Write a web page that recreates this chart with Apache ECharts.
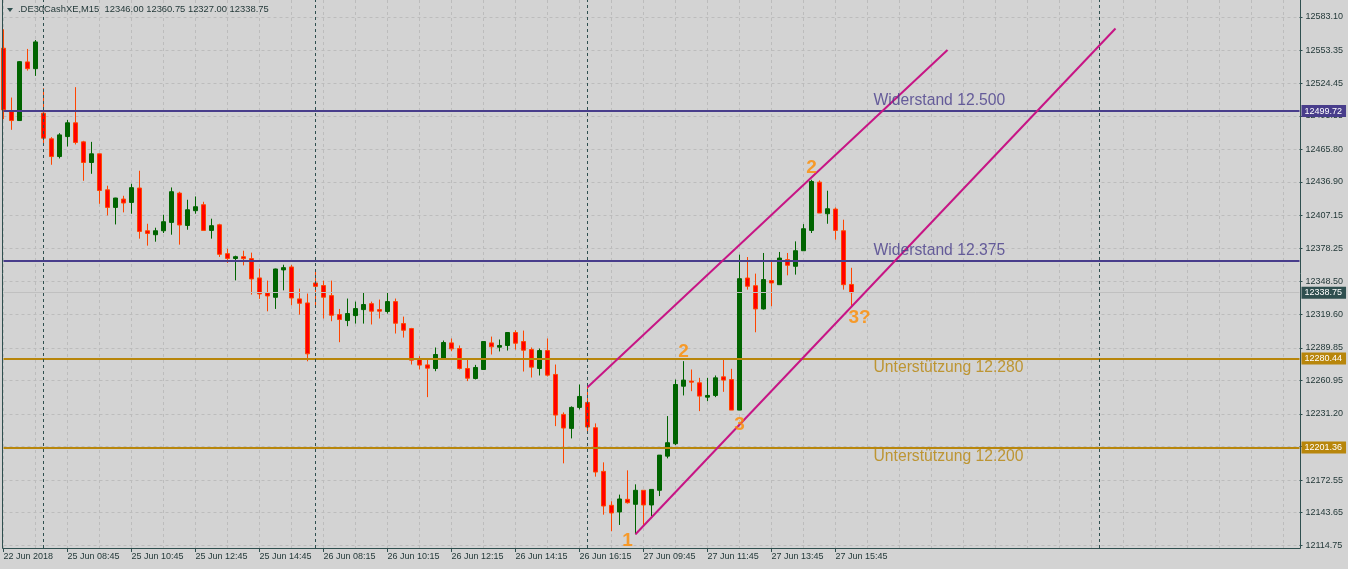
<!DOCTYPE html>
<html><head><meta charset="utf-8">
<script src="https://cdn.jsdelivr.net/npm/echarts@6/dist/echarts.min.js"></script>
<style>html,body{margin:0;padding:0;background:#d3d3d3;overflow:hidden}#c{width:1348px;height:569px}</style>
</head><body><div id="c"></div><script>
// ---------- data ----------
const symbolName = '.DE30CashXE,M15';
const sessions = [['22 Jun', '15:15', 5], ['25 Jun', '08:00', 34], ['26 Jun', '08:00', 34], ['27 Jun', '08:00', 34]];
const firstLabel = '22 Jun 2018';
const totalSlots = 163;

const openValues = [
12555.4,12499.3,12491.3,12543.3,12537.3,12497.8,12475.1,12459.4,12477.1,12489.3,
12472.4,12454.1,12461.8,12429.9,12414.3,12421.7,12418.7,12431.5,12393.6,12390.1,
12393.6,12401.0,12427.0,12398.3,12411.4,12416.7,12393.9,12398.9,12373.3,12369.0,
12370.6,12368.9,12351.8,12338.5,12334.6,12358.9,12361.5,12333.2,12329.6,12347.3,
12345.0,12336.1,12319.3,12314.0,12318.4,12323.7,12329.0,12323.7,12322.0,12330.8,
12311.3,12306.9,12279.5,12274.7,12271.5,12280.4,12294.2,12289.2,12271.5,12262.6,
12270.6,12294.2,12290.4,12291.9,12303.4,12295.4,12288.3,12271.5,12287.4,12266.2,
12230.8,12218.4,12237.0,12241.4,12219.0,12180.3,12150.2,12144.3,12155.5,12151.1,
12163.5,12150.5,12163.5,12193.8,12204.8,12255.8,12260.3,12258.8,12246.1,12247.6,
12264.1,12261.7,12234.6,12351.7,12344.9,12324.3,12349.4,12345.8,12368.0,12362.1,
12375.9,12393.9,12436.7,12408.7,12412.8,12393.6,12346.00];
const closeValues = [
12500.8,12491.3,12543.5,12537.3,12561.0,12475.7,12459.4,12478.6,12489.3,12471.9,
12454.1,12461.8,12429.3,12414.3,12422.6,12418.2,12431.8,12393.0,12391.2,12393.6,
12401.6,12428.2,12398.7,12412.2,12414.9,12393.9,12398.1,12372.7,12369.1,12370.6,
12368.9,12350.9,12337.6,12335.8,12359.7,12360.9,12334.0,12329.3,12284.5,12344.3,
12334.7,12318.7,12314.9,12320.2,12324.6,12328.2,12322.3,12322.3,12330.8,12311.6,
12305.4,12278.9,12274.5,12271.8,12283.9,12294.5,12288.9,12271.5,12262.9,12272.4,
12295.4,12290.7,12291.9,12303.4,12293.9,12287.7,12272.7,12287.4,12265.6,12230.2,
12218.7,12237.0,12246.7,12219.6,12179.7,12149.6,12143.4,12155.8,12152.5,12163.5,
12150.5,12164.3,12194.7,12205.7,12257.3,12261.2,12259.4,12247.0,12247.6,12263.2,
12261.2,12234.6,12351.1,12344.4,12324.3,12350.3,12347.3,12369.4,12363.0,12375.9,
12395.4,12437.3,12409.3,12413.1,12393.9,12345.8,12338.75];
const lowValues = [
12492.5,12483.1,12491.0,12535.6,12530.9,12470.7,12452.1,12457.7,12468.3,12470.1,
12437.9,12444.1,12417.5,12407.2,12399.2,12409.9,12408.7,12386.6,12380.4,12383.9,
12391.6,12390.1,12381.3,12394.5,12408.7,12393.9,12386.6,12370.4,12365.1,12349.6,
12362.9,12337.0,12333.2,12322.2,12324.3,12340.8,12327.5,12319.3,12277.9,12327.2,
12315.8,12313.4,12294.8,12309.0,12311.3,12311.3,12310.5,12315.8,12320.2,12302.5,
12298.9,12275.0,12270.6,12246.1,12269.1,12279.5,12286.8,12270.6,12260.3,12261.8,
12270.6,12283.9,12286.6,12287.4,12288.3,12268.8,12263.5,12265.3,12264.4,12220.4,
12187.4,12209.5,12235.2,12215.7,12175.6,12141.9,12127.2,12132.8,12151.7,12124.5,
12132.8,12140.7,12158.4,12191.8,12203.6,12247.6,12251.4,12233.7,12242.5,12246.1,
12250.8,12234.6,12234.6,12341.4,12303.6,12323.7,12326.7,12345.8,12354.1,12354.7,
12375.9,12391.6,12409.3,12399.8,12385.7,12341.4,12327.00];
const highValues = [
12572.2,12511.7,12544.0,12554.8,12562.7,12520.0,12476.6,12480.1,12491.9,12520.9,
12473.3,12472.4,12462.0,12433.5,12422.8,12424.6,12435.3,12446.8,12399.8,12396.3,
12407.8,12432.0,12428.2,12421.1,12424.0,12419.3,12404.3,12399.8,12377.7,12371.5,
12375.9,12374.2,12360.0,12349.4,12360.0,12363.5,12363.3,12342.3,12337.9,12358.5,
12349.4,12349.4,12324.3,12333.5,12330.8,12339.1,12330.8,12332.6,12339.1,12333.5,
12317.5,12307.5,12282.4,12280.1,12290.1,12296.3,12298.1,12291.9,12279.5,12274.7,
12295.4,12299.8,12297.2,12303.4,12305.4,12305.1,12290.1,12289.2,12298.1,12275.0,
12232.6,12237.9,12257.3,12256.7,12222.8,12188.3,12153.8,12159.7,12181.2,12168.8,
12163.5,12164.3,12194.7,12229.3,12261.7,12278.0,12270.6,12263.2,12263.2,12265.3,
12280.3,12271.2,12372.4,12370.3,12355.6,12373.9,12366.5,12374.8,12373.9,12384.2,
12399.5,12438.8,12438.2,12429.1,12414.3,12403.4,12360.75];

const priceTicks = [12583.10,12553.35,12524.45,12495.55,12465.80,12436.90,12407.15,12378.25,12348.50,
  12319.60,12289.85,12260.95,12231.20,12202.30,12172.55,12143.65,12114.75];

const levelValues = [12499.72, 12367.0, 12280.44, 12201.36];
const levelNames = ['Widerstand 12.500', 'Widerstand 12.375', 'Unterstützung 12.280', 'Unterstützung 12.200'];
const levelColors = ['#483d8b', '#483d8b', '#b8860b', '#b8860b'];
const levelShowPrice = [true, false, true, true];
const levelTextIndex = 109;
const levelTextAbove = [true, true, false, false];
const bidPrice = 12338.75;

const separatorIndex = [5, 39, 73, 137];
const trendLines = [[73, 12254.9, 118, 12553.9], [79, 12124.5, 139, 12572.9]];
const trendColor = '#c71585';

const waveLabels = ['1', '2', '3', '2', '3?'];
const waveIndex = [78, 85, 92, 101, 107];
const wavePrice = [12118.6, 12286.4, 12221.4, 12449.2, 12316.3];

// ---------- build ----------
function addMin(t, m) {
  const p = t.split(':').map(Number); const tot = p[0] * 60 + p[1] + m;
  return String(Math.floor(tot / 60)).padStart(2, '0') + ':' + String(tot % 60).padStart(2, '0');
}
const categories = [];
sessions.forEach(([d, s, n]) => { for (let k = 0; k < n; k++) categories.push(d + ' ' + addMin(s, 15 * k)); });
categories[0] = firstLabel;
const lastBar = categories.length - 1;
for (let k = categories.length; k < totalSlots; k++) categories.push('slot' + k);

const candleData = openValues.map((o, i) => [o, closeValues[i], lowValues[i], highValues[i]]);

const FONT = '"Liberation Sans", Arial, sans-serif';
const FG = '#2f4f4f';
const TXT = '#1f3535';

const mlData = [];
levelValues.forEach((v, i) => {
  mlData.push({
    yAxis: v,
    lineStyle: { color: levelColors[i], width: 2, type: 'solid' },
    label: levelShowPrice[i] ? {
      show: true, position: 'end', distance: 2, formatter: v.toFixed(2),
      color: '#ffffff', backgroundColor: levelColors[i], padding: [1, 4, 1, 3],
      fontSize: 9, lineHeight: 10, fontFamily: FONT
    } : { show: false }
  });
});
mlData.push({
  yAxis: bidPrice,
  lineStyle: { color: '#c0c0c0', width: 1, type: 'solid' },
  label: { show: true, position: 'end', distance: 2, formatter: bidPrice.toFixed(2),
    color: '#ffffff', backgroundColor: '#2f4f4f', padding: [1, 4, 1, 3],
    fontSize: 9, lineHeight: 10, fontFamily: FONT }
});
separatorIndex.forEach(ix => {
  mlData.push({ xAxis: ix, lineStyle: { color: '#2f4f4f', width: 1, type: [3, 3] }, label: { show: false } });
});
trendLines.forEach(t => {
  mlData.push([
    { coord: [t[0], t[1]], lineStyle: { color: trendColor, width: 2, type: 'solid' }, label: { show: false } },
    { coord: [t[2], t[3]] }
  ]);
});

const levelTextData = levelValues.map((v, i) => ({
  value: [levelTextIndex, v],
  label: {
    formatter: levelNames[i], color: levelColors[i],
    offset: [-2, levelTextAbove[i] ? -10 : 9]
  }
}));
const waveData = waveLabels.map((t, i) => ({ value: [waveIndex[i], wavePrice[i]], label: { formatter: t } }));

const yTopPx = 17, yBotPx = 545.3, gridTop = 0, gridBottomPx = 548;
const pxPerPt = (yBotPx - yTopPx) / (priceTicks[0] - priceTicks[priceTicks.length - 1]);
const yMax = priceTicks[0] + (yTopPx - gridTop) / pxPerPt;
const yMin = yMax - (gridBottomPx - gridTop) / pxPerPt;

const last = candleData.length - 1;
const headerText = symbolName + '  ' + [openValues[last], highValues[last], lowValues[last], closeValues[last]].map(v => v.toFixed(2)).join(' ');

const chart = echarts.init(document.getElementById('c'), null, { renderer: 'canvas' });
chart.setOption({
  backgroundColor: '#d3d3d3',
  animation: false,
  grid: { left: 3.5, right: 48.5, top: gridTop, bottom: 569 - gridBottomPx, containLabel: false, outerBoundsMode: 'none' },
  xAxis: {
    type: 'category', data: categories, boundaryGap: false,
    axisLine: { show: false },
    axisTick: { show: true, length: 4, interval: (i) => i % 8 === 0 && i <= lastBar, lineStyle: { color: FG } },
    axisLabel: { show: true, interval: (i) => i % 8 === 0 && i <= lastBar, align: 'left', margin: 4,
      fontSize: 9, color: TXT, fontFamily: FONT, hideOverlap: false },
    splitLine: { show: true, interval: 3, lineStyle: { color: '#bcbcbc', width: 1, type: [3, 3] } }
  },
  yAxis: {
    type: 'value', position: 'right', min: yMin, max: yMax,
    axisLine: { show: false },
    axisTick: { show: true, length: 3, customValues: priceTicks, lineStyle: { color: FG } },
    axisLabel: { show: true, customValues: priceTicks, formatter: v => Number(v).toFixed(2), margin: 6,
      fontSize: 9, color: TXT, fontFamily: FONT },
    splitLine: { show: true, lineStyle: { color: '#bcbcbc', width: 1, type: [3, 3] } }
  },
  series: [
    {
      type: 'candlestick', data: candleData, barWidth: 4, clip: false, silent: true,
      itemStyle: { color: '#006400', color0: '#ff0000', borderColor: '#006400', borderColor0: '#ff4500', borderWidth: 1 },
      emphasis: { disabled: true },
      markLine: { silent: true, symbol: ['none', 'none'], animation: false, data: mlData, emphasis: { disabled: true } }
    },
    {
      type: 'scatter', data: levelTextData, symbolSize: 0, silent: true, z: 5,
      label: { show: true, position: [0, 0], align: 'left', verticalAlign: 'middle', fontSize: 15.7, fontFamily: FONT }
    },
    {
      type: 'scatter', data: waveData, symbolSize: 0, silent: true, z: 5,
      label: { show: true, position: [0, 0], align: 'center', verticalAlign: 'middle', fontSize: 19, fontWeight: 'bold',
        color: '#ff8c00', fontFamily: FONT }
    }
  ],
  graphic: [
    { type: 'rect', silent: true, z: 100, shape: { x: 2.5, y: -1, width: 1298, height: 549.5 },
      style: { fill: 'none', stroke: FG, lineWidth: 1 } },
    { type: 'polygon', silent: true, z: 100, shape: { points: [[7, 8], [13, 8], [10, 12]] }, style: { fill: FG } },
    { type: 'text', silent: true, z: 100, left: 18, top: 5,
      style: { text: headerText, fill: TXT, font: '9.4px ' + FONT } }
  ]
});
</script></body></html>
